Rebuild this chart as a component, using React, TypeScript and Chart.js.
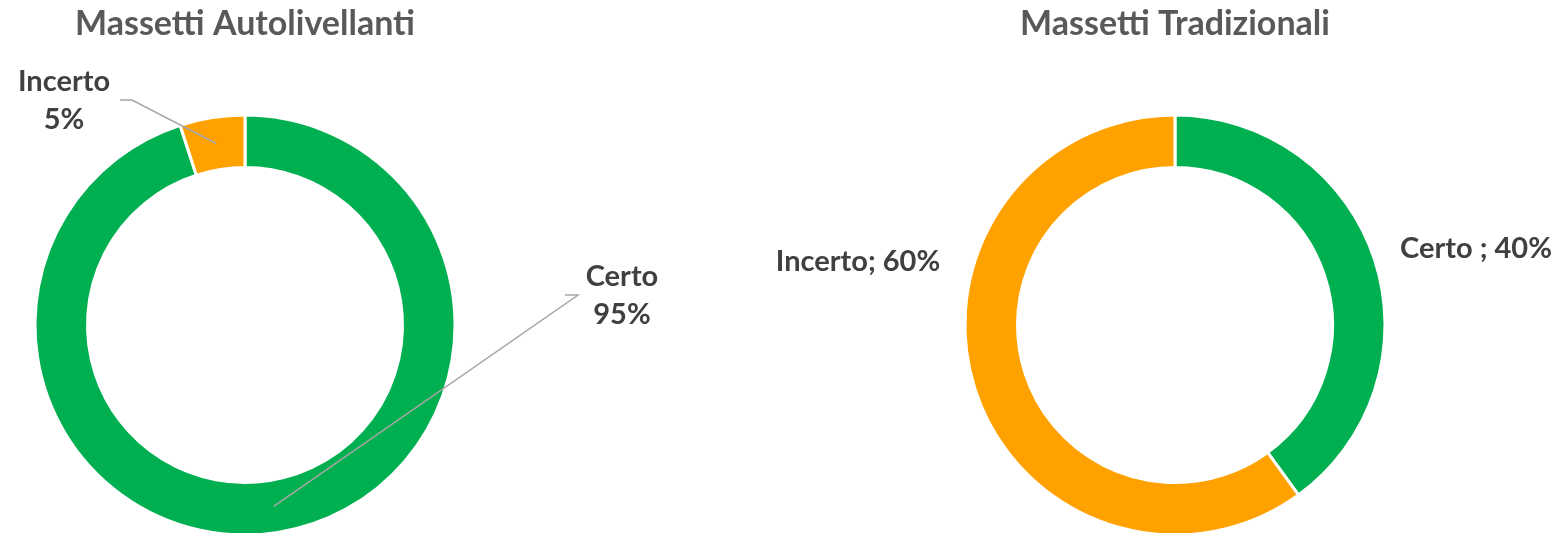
import React, { useEffect, useRef } from "react";
import { Chart, registerables } from "chart.js";
Chart.register(...registerables);

const categoriesLeft = ["Certo", "Incerto"];
const valuesLeft = [95, 5];
const categoriesRight = ["Certo", "Incerto"];
const valuesRight = [40, 60];
const titleLeft = "Massetti Autolivellanti";
const titleRight = "Massetti Tradizionali";
const colors = ["#00B050", "#FFA200"];

const FONT = "Lato, 'Open Sans', sans-serif";
const TEXT = "#404040";

type LabelCfg = { lines: string[]; dx: number; dy: number; leader?: { sx: number; sy: number; ex: number } };

const labelPlugin = {
  id: "customLabels",
  afterDraw(chart: any, _args: any, opts: any) {
    const cfgs: LabelCfg[] = opts.labels || [];
    const meta = chart.getDatasetMeta(0);
    const ctx = chart.ctx;
    const cx = (chart.chartArea.left + chart.chartArea.right) / 2;
    const cy = (chart.chartArea.top + chart.chartArea.bottom) / 2;
    ctx.save();
    cfgs.forEach((c, i) => {
      const arc = meta.data[i];
      if (c.leader && arc) {
        const p = arc.tooltipPosition();
        ctx.strokeStyle = "#A6A6A6";
        ctx.lineWidth = 1.5;
        ctx.beginPath();
        ctx.moveTo(cx + c.leader.sx, cy + c.leader.sy);
        ctx.lineTo(cx + c.leader.ex, cy + c.leader.sy);
        ctx.lineTo(p.x, p.y);
        ctx.stroke();
      }
      ctx.fillStyle = TEXT;
      ctx.font = `bold ${opts.fontSize}px ${FONT}`;
      ctx.textAlign = "center";
      ctx.textBaseline = "middle";
      const lh = opts.lineHeight;
      const n = c.lines.length;
      c.lines.forEach((t, k) => {
        ctx.fillText(t, cx + c.dx, cy + c.dy + (k - (n - 1) / 2) * lh);
      });
    });
    ctx.restore();
  },
};

function Donut(props: {
  labels: string[];
  values: number[];
  title: string;
  left: number;
  width: number;
  padLeft: number;
  padRight: number;
  labelCfg: LabelCfg[];
}) {
  const ref = useRef<HTMLCanvasElement>(null);
  useEffect(() => {
    const chart = new Chart(ref.current!, {
      type: "doughnut",
      data: {
        labels: props.labels,
        datasets: [
          {
            data: props.values,
            backgroundColor: colors,
            borderColor: "#FFFFFF",
            borderWidth: 3,
          },
        ],
      },
      options: {
        animation: false,
        responsive: false,
        cutout: "75%",
        layout: { padding: { left: props.padLeft, right: props.padRight, top: 0, bottom: 13.5 } },
        plugins: {
          legend: { display: false },
          tooltip: { enabled: false },
          title: {
            display: true,
            text: props.title,
            color: "#595959",
            font: { family: FONT, size: 34, weight: "bold" },
            padding: { top: 4, bottom: 68.7 },
          },
          customLabels: { labels: props.labelCfg, fontSize: 29, lineHeight: 38 },
        } as any,
      },
      plugins: [labelPlugin],
    });
    return () => chart.destroy();
  }, []);
  return (
    <canvas
      ref={ref}
      width={props.width}
      height={550}
      style={{ position: "absolute", left: props.left, top: 0, width: props.width, height: 550 }}
    />
  );
}

export default function App() {
  return (
    <div
      style={{
        position: "fixed",
        left: 0,
        top: 0,
        width: 1559,
        height: 533,
        overflow: "hidden",
        background: "#FFFFFF",
      }}
    >
      <Donut
        labels={categoriesLeft}
        values={valuesLeft}
        title={titleLeft}
        left={0}
        width={700}
        padLeft={33.5}
        padRight={243.5}
        labelCfg={[
          { lines: [`${categoriesLeft[0]}`, `${valuesLeft[0]}%`], dx: 377, dy: -29, leader: { sx: 320, sy: -30, ex: 333 } },
          { lines: [`${categoriesLeft[1]}`, `${valuesLeft[1]}%`], dx: -181, dy: -224, leader: { sx: -125, sy: -225, ex: -113 } },
        ]}
      />
      <Donut
        labels={categoriesRight}
        values={valuesRight}
        title={titleRight}
        left={700}
        width={859}
        padLeft={263.5}
        padRight={172.5}
        labelCfg={[
          { lines: [`${categoriesRight[0]} ; ${valuesRight[0]}%`], dx: 301, dy: -76 },
          { lines: [`${categoriesRight[1]}; ${valuesRight[1]}%`], dx: -317, dy: -63 },
        ]}
      />
    </div>
  );
}
